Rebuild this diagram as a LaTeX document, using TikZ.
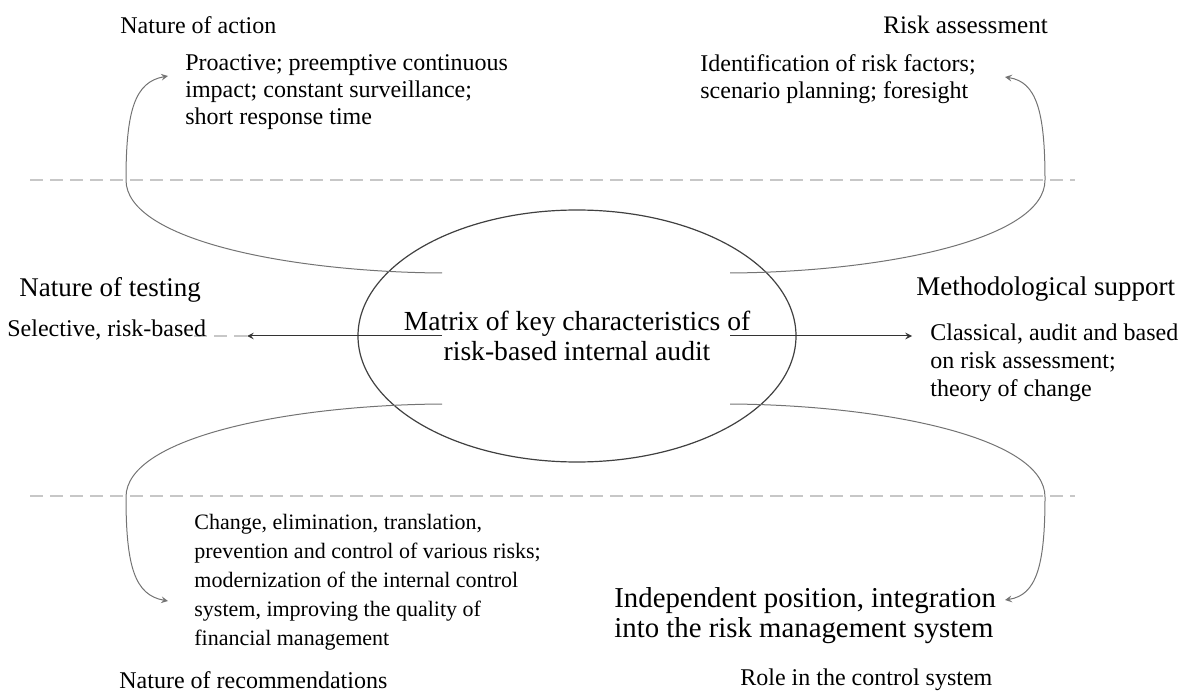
\documentclass[tikz,border=0pt]{standalone}
\usepackage{fontspec}
\setmainfont{Liberation Serif}
\usetikzlibrary{arrows, shapes.geometric}

\begin{document}
\begin{tikzpicture}[
            x = 0.5pt, y = -0.5pt, % one unit = one pixel, y runs downwards
            > = stealth, % arrow head style
            thin % line style
        ]

        \tikzstyle{head}=[anchor = west, inner sep = 0pt, font = \fontsize{12}{14}\selectfont]
        \tikzstyle{body}=[anchor = north west, inner sep = 0pt, align = left, font = \fontsize{12}{13.5}\selectfont]
        \tikzstyle{divider}=[draw = black!22, line width = 1pt, dash pattern = on 6.5pt off 3.5pt]
        \tikzstyle{link}=[draw = black!55, line width = 0.5pt]

        \useasboundingbox (0,0) rectangle (1189,695);

        % dashed separators
        \draw[divider] (30,180) -- (1075,180);
        \draw[divider] (30,496) -- (1075,496);
        \draw[divider] (194,336) -- (247,336);

        % central ellipse and its caption
        \node[ellipse, draw = black!75, line width = 0.6pt, minimum width = 219pt, minimum height = 126pt,
              inner sep = 0pt] (core) at (577,336) {};
        \node[align = center, font = \fontsize{13.8}{15}\selectfont] (core-txt) at (core.center)
              {Matrix of key characteristics of\\risk-based internal audit};

        % headings
        \node[head] (action) at (120,25) {Nature of action};
        \node[head, font = \fontsize{12.6}{14}\selectfont] (assess) at (883,25) {Risk assessment};
        \node[head, font = \fontsize{13.5}{15}\selectfont] (testing) at (19,290) {Nature of testing};
        \node[head, font = \fontsize{13.5}{15}\selectfont] (method) at (916,289) {Methodological support};
        \node[head] (recom) at (119,680) {Nature of recommendations};
        \node[head] (role) at (740,680) {Role in the control system};

        % descriptions
        \node[body] (action-txt) at (185,54) {Proactive; preemptive continuous\\impact; constant surveillance;\\short response time};
        \node[body] (assess-txt) at (700,54) {Identification of risk factors;\\scenario planning; foresight};
        \node[head] (testing-txt) at (7,330) {Selective, risk-based};
        \node[body, font = \fontsize{12}{14}\selectfont] (method-txt) at (930,323) {Classical, audit and based\\on risk assessment;\\theory of change};
        \node[body, font = \fontsize{11}{14.5}\selectfont] (recom-txt) at (194,514) {Change, elimination, translation,\\prevention and control of various risks;\\modernization of the internal control\\system, improving the quality of\\financial management};
        \node[body, font = \fontsize{14.4}{15}\selectfont] (role-txt) at (614,587) {Independent position, integration\\into the risk management system};

        % connector ends
        \coordinate (nw) at (442,273);
        \coordinate (ne) at (730,273);
        \coordinate (sw) at (442,404);
        \coordinate (se) at (730,404);
        \coordinate (w) at (442,336);
        \coordinate (e) at (730,336);
        \coordinate (nw-tip) at (168,76);
        \coordinate (ne-tip) at (1005,77);
        \coordinate (sw-tip) at (168,601);
        \coordinate (se-tip) at (1005,600);
        \coordinate (w-tip) at (247,336);
        \coordinate (e-tip) at (912,336);

        \draw[link, ->] (nw) .. controls (290,272) and (126,240) .. (126,180)
            .. controls (126,110) and (135,82) .. (nw-tip);
        \draw[link, ->] (ne) .. controls (882,272) and (1045,240) .. (1045,180)
            .. controls (1045,110) and (1036,82) .. (ne-tip);
        \draw[link, ->] (sw) .. controls (290,405) and (126,437) .. (126,497)
            .. controls (126,567) and (135,595) .. (sw-tip);
        \draw[link, ->] (se) .. controls (882,405) and (1045,437) .. (1045,497)
            .. controls (1045,567) and (1036,595) .. (se-tip);

        \draw[link, draw = black!80, ->] (w) -- (w-tip);
        \draw[link, draw = black!80, ->] (e) -- (e-tip);
    \end{tikzpicture}
\end{document}
